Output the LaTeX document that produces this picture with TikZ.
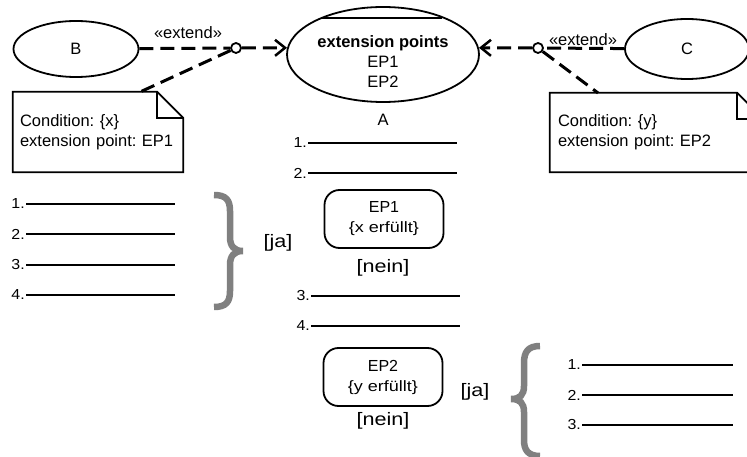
\documentclass[tikz,border=0pt]{standalone}
\usepackage{fontspec}
\setmainfont{Liberation Sans}
\newfontfamily\widefont[FakeStretch=1.2]{Liberation Sans}
\newfontfamily\numfont[FakeStretch=1.1]{Liberation Sans}
\usetikzlibrary{arrows.meta,shapes.geometric,calc}
\frenchspacing
\tikzset{
  uc/.style={ellipse, draw, line width=1.8pt, inner sep=0pt},
  txt/.style={font=\fontsize{16.5}{20}\selectfont, inner sep=0pt},
  ext/.style={line width=3pt, dash pattern=on 14pt off 7pt},
  tip/.style={-{Straight Barb[length=10pt,width=16pt,line width=2.5pt]}},
  epc/.style={circle, draw, line width=1.8pt, fill=white, minimum size=10pt, inner sep=0pt},
  notebox/.style={txt, align=left, inner xsep=7pt},
  noteline/.style={line width=1.8pt},
  lst/.style={line width=2pt},
  num/.style={font=\numfont\fontsize{14.5}{16}\selectfont, anchor=east, inner sep=1pt},
  grd/.style={font=\widefont\fontsize{18}{22}\selectfont, inner sep=0pt},
  epbox/.style={draw, rounded corners=15pt, line width=1.8pt, minimum width=119pt, minimum height=58pt, align=center, inner sep=0pt, font=\fontsize{16}{20}\selectfont},
  brc/.style={draw=gray, line width=6.5pt},
}
\begin{document}
\begin{tikzpicture}[x=1pt,y=-1pt]
\useasboundingbox (0,0) rectangle (747,457);
\clip (0,0) rectangle (747,457);

% use cases
\node[uc, txt, minimum width=125pt, minimum height=56pt] (B) at (76,49) {B};
\node[uc, minimum width=192pt, minimum height=95pt] (A) at (383,54.5) {};
\draw[line width=1.8pt] ($(A.north)+(-61,12)$) -- ($(A.north)+(59,12)$);
\node[txt, align=center] (At) at (383,62) {\textbf{extension points}\\EP1\\EP2};
\node[txt] (Alabel) at (383,120) {A};
\node[uc, txt, minimum width=124pt, minimum height=60pt] (C) at (687,49) {C};

% extension point circles
\node[epc] (cB) at (236,48) {};
\node[epc] (cC) at (538,48) {};

\draw[ext] (B) -- (cB);
\draw[ext, tip] (cB) -- (A.176);
\draw[ext] (C) -- (cC);
\draw[ext, tip] (cC) -- (A.4);

\node[txt] (e1) at (188,33) {«extend»};
\node[txt] (e2) at (583,40) {«extend»};

% notes
\node[notebox, text width=156pt, minimum width=170pt, minimum height=80pt] (nB) at (98,132) {Condition: \{x\}\\extension point: EP1};
\draw[noteline] (nB.north west) -- ($(nB.north east)+(-26,0)$) -- ($(nB.north east)+(0,26)$) -- (nB.south east) -- (nB.south west) -- cycle;
\draw[noteline] ($(nB.north east)+(-26,0)$) |- ($(nB.north east)+(0,26)$);
\coordinate (nBa) at (140,92);
\draw[ext] (cB) -- (nBa);

\node[notebox, inner xsep=8pt, text width=197pt, minimum width=213pt, minimum height=79pt] (nC) at (656.5,132.5) {Condition: \{y\}\\extension point: EP2};
\draw[noteline] (nC.north west) -- ($(nC.north east)+(-26,0)$) -- ($(nC.north east)+(0,26)$) -- (nC.south east) -- (nC.south west) -- cycle;
\draw[noteline] ($(nC.north east)+(-26,0)$) |- ($(nC.north east)+(0,26)$);
\coordinate (nCa) at (598,93);
\draw[ext] (cC) -- (nCa);

% main flow of A
\node[num] (a1) at (308,143) {1.}; \coordinate (a1e) at (457,143); \draw[lst] (a1.east) -- (a1e);
\node[num] (a2) at (308,173) {2.}; \coordinate (a2e) at (457,173); \draw[lst] (a2.east) -- (a2e);
\node[epbox] (E1) at (384,219) {EP1\\{\widefont\fontsize{15}{18}\selectfont\{x erfüllt\}}};
\node[grd] (n1) at (383,268) {[nein]};
\node[num] (a3) at (311,296) {3.}; \coordinate (a3e) at (460,296); \draw[lst] (a3.east) -- (a3e);
\node[num] (a4) at (311,326) {4.}; \coordinate (a4e) at (460,326); \draw[lst] (a4.east) -- (a4e);
\node[epbox] (E2) at (383,377) {EP2\\{\widefont\fontsize{15}{18}\selectfont\{y erfüllt\}}};
\node[grd] (n2) at (383,421) {[nein]};

% B flow
\node[num] (b1) at (26,204) {1.}; \coordinate (b1e) at (175,204); \draw[lst] (b1.east) -- (b1e);
\node[num] (b2) at (26,234) {2.}; \coordinate (b2e) at (175,234); \draw[lst] (b2.east) -- (b2e);
\node[num] (b3) at (26,265) {3.}; \coordinate (b3e) at (175,265); \draw[lst] (b3.east) -- (b3e);
\node[num] (b4) at (26,295) {4.}; \coordinate (b4e) at (175,295); \draw[lst] (b4.east) -- (b4e);
\draw[brc] (214,195) .. controls (226,195) and (230,200) .. (230,211) -- (230,237) .. controls (230,246) and (234,251) .. (243,251) .. controls (234,251) and (230,256) .. (230,265) -- (230,291) .. controls (230,302) and (226,307) .. (214,307);
\node[grd] (j1) at (278,243) {[ja]};

% C flow
\node[num] (c1) at (582,365) {1.}; \coordinate (c1e) at (733,365); \draw[lst] (c1.east) -- (c1e);
\node[num] (c2) at (582,395) {2.}; \coordinate (c2e) at (733,395); \draw[lst] (c2.east) -- (c2e);
\node[num] (c3) at (582,425) {3.}; \coordinate (c3e) at (733,425); \draw[lst] (c3.east) -- (c3e);
\draw[brc] (540,346) .. controls (528,346) and (524,352) .. (524,363) -- (524,386) .. controls (524,395) and (520,399) .. (511,399) .. controls (520,399) and (524,403) .. (524,412) -- (524,440) .. controls (524,450) and (528,456) .. (540,456);
\node[grd] (j2) at (475,392) {[ja]};
\end{tikzpicture}
\end{document}
